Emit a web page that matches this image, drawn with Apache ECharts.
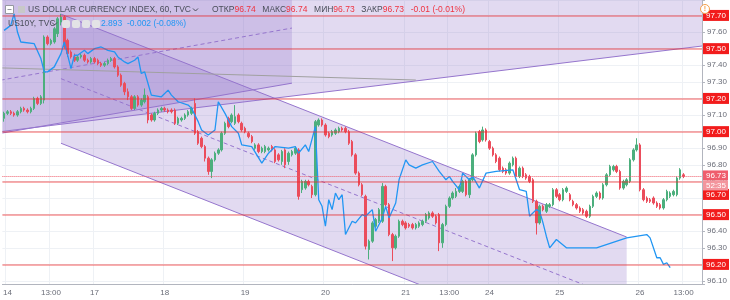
<!DOCTYPE html>
<html><head><meta charset="utf-8">
<script src="https://cdn.jsdelivr.net/npm/echarts@6/dist/echarts.min.js"></script>
<style>html,body{margin:0;padding:0;background:#fff}#c{width:730px;height:300px}</style>
</head><body><div id="c"></div>
<script>
// ---------- data ----------
const categoryCount = 209;
const tickIndex  = [1, 14, 27, 48, 72, 96, 120, 133, 145, 166, 190, 203];
const tickLabels = ["14","13:00","17","18","19","20","21","13:00","24","25","26","13:00"];
const priceTicks = [96.1,96.2,96.3,96.4,96.5,96.6,96.7,96.8,96.9,97.0,97.1,97.2,97.3,97.4,97.5,97.6,97.7];
// [open, close, low, high]
const candles = [
[97.08,97.11,97.06,97.12],[97.11,97.12,97.10,97.13],[97.12,97.11,97.10,97.13],[97.11,97.10,97.09,97.12],
[97.10,97.12,97.09,97.13],[97.12,97.14,97.11,97.15],[97.14,97.13,97.12,97.15],[97.13,97.12,97.11,97.14],
[97.12,97.14,97.11,97.15],[97.14,97.20,97.13,97.21],[97.20,97.17,97.16,97.21],[97.17,97.21,97.16,97.22],
[97.19,97.57,97.17,97.58],[97.57,97.53,97.52,97.58],[97.53,97.55,97.52,97.56],[97.54,97.62,97.53,97.63],
[97.59,97.68,97.57,97.69],[97.66,97.69,97.64,97.71],[97.69,97.51,97.50,97.70],[97.55,97.47,97.45,97.56],
[97.48,97.45,97.44,97.49],[97.45,97.43,97.42,97.47],[97.43,97.45,97.42,97.46],[97.45,97.46,97.44,97.47],
[97.46,97.43,97.42,97.47],[97.43,97.42,97.41,97.44],[97.42,97.44,97.41,97.45],[97.44,97.42,97.41,97.45],
[97.43,97.41,97.40,97.44],[97.41,97.40,97.39,97.42],[97.40,97.41,97.39,97.42],[97.41,97.43,97.40,97.44],
[97.43,97.44,97.42,97.45],[97.44,97.39,97.38,97.45],[97.39,97.34,97.33,97.40],[97.34,97.28,97.27,97.35],
[97.29,97.24,97.22,97.30],[97.24,97.21,97.19,97.26],[97.21,97.14,97.13,97.22],[97.14,97.21,97.13,97.22],
[97.21,97.16,97.15,97.22],[97.16,97.19,97.15,97.20],[97.18,97.22,97.17,97.26],[97.21,97.07,97.05,97.22],
[97.10,97.07,97.06,97.11],[97.07,97.11,97.06,97.12],[97.11,97.13,97.10,97.14],[97.13,97.14,97.12,97.15],
[97.14,97.13,97.12,97.15],[97.13,97.12,97.11,97.14],[97.13,97.12,97.11,97.14],[97.13,97.05,97.04,97.14],
[97.05,97.08,97.04,97.09],[97.07,97.08,97.06,97.09],[97.08,97.10,97.07,97.11],[97.10,97.12,97.09,97.13],
[97.11,97.14,97.10,97.15],[97.17,96.99,96.98,97.20],[97.00,96.93,96.92,97.01],[96.96,96.91,96.90,96.97],
[96.91,96.84,96.82,96.92],[96.84,96.76,96.74,96.85],[96.76,96.83,96.72,96.84],[96.83,96.87,96.82,96.88],
[96.87,96.89,96.86,96.90],[96.89,96.99,96.88,97.00],[96.99,97.05,96.98,97.06],[97.08,97.03,97.02,97.09],
[97.06,97.10,97.05,97.11],[97.05,97.09,97.04,97.16],[97.10,97.06,97.05,97.11],[97.05,97.01,97.00,97.06],
[97.02,97.00,96.99,97.03],[96.99,96.97,96.96,97.00],[96.97,96.94,96.93,96.98],[96.90,96.92,96.89,96.93],
[96.92,96.88,96.87,96.93],[96.88,96.90,96.87,96.91],[96.88,96.91,96.87,96.92],[96.89,96.90,96.88,96.91],
[96.91,96.89,96.88,96.92],[96.89,96.82,96.81,96.90],[96.86,96.83,96.82,96.87],[96.82,96.88,96.80,96.89],
[96.89,96.80,96.78,96.90],[96.82,96.87,96.80,96.88],[96.86,96.88,96.85,96.89],[96.87,96.90,96.86,96.91],
[96.89,96.61,96.59,96.90],[96.65,96.70,96.63,96.71],[96.66,96.70,96.65,96.71],[96.70,96.68,96.67,96.71],
[96.67,96.62,96.60,96.68],[96.62,97.06,96.61,97.07],[97.04,97.07,97.03,97.08],[97.07,97.04,97.03,97.08],
[97.04,96.98,96.97,97.05],[96.99,96.97,96.96,97.00],[96.98,97.00,96.97,97.01],[96.99,97.01,96.98,97.02],
[97.00,97.02,96.99,97.03],[97.02,97.01,97.00,97.03],[97.02,97.00,96.99,97.03],[97.00,96.93,96.92,97.01],
[96.94,96.86,96.85,96.95],[96.86,96.75,96.74,96.87],[96.75,96.68,96.67,96.76],[96.68,96.62,96.61,96.69],
[96.61,96.31,96.29,96.62],[96.29,96.34,96.23,96.35],[96.34,96.45,96.33,96.46],[96.43,96.47,96.42,96.48],
[96.46,96.53,96.45,96.54],[96.46,96.67,96.45,96.69],[96.67,96.56,96.55,96.68],[96.56,96.38,96.37,96.57],
[96.38,96.30,96.22,96.39],[96.30,96.37,96.29,96.38],[96.37,96.46,96.36,96.47],[96.46,96.44,96.43,96.47],
[96.45,96.42,96.41,96.46],[96.44,96.43,96.42,96.45],[96.44,96.42,96.41,96.45],[96.42,96.44,96.41,96.45],
[96.43,96.45,96.42,96.46],[96.44,96.46,96.43,96.47],[96.46,96.50,96.45,96.51],[96.48,96.51,96.47,96.52],
[96.51,96.49,96.48,96.52],[96.49,96.45,96.44,96.50],[96.50,96.33,96.28,96.51],[96.33,96.44,96.30,96.45],
[96.44,96.55,96.43,96.56],[96.55,96.60,96.54,96.61],[96.60,96.63,96.59,96.64],[96.61,96.64,96.60,96.66],
[96.64,96.67,96.63,96.68],[96.64,96.70,96.63,96.71],[96.70,96.62,96.61,96.71],[96.62,96.71,96.60,96.72],
[96.71,96.86,96.70,96.87],[96.86,96.99,96.85,97.00],[97.00,96.94,96.93,97.01],[96.95,97.01,96.94,97.03],
[97.01,96.95,96.94,97.02],[96.94,96.90,96.89,96.95],[96.90,96.86,96.85,96.91],[96.86,96.82,96.81,96.87],
[96.84,96.77,96.76,96.85],[96.78,96.76,96.75,96.79],[96.77,96.75,96.74,96.78],[96.75,96.81,96.74,96.82],
[96.80,96.84,96.79,96.85],[96.84,96.73,96.72,96.85],[96.73,96.78,96.72,96.79],[96.78,96.73,96.72,96.79],
[96.74,96.72,96.71,96.75],[96.73,96.70,96.69,96.74],[96.71,96.58,96.57,96.72],[96.58,96.45,96.38,96.59],
[96.45,96.55,96.44,96.56],[96.55,96.53,96.52,96.56],[96.52,96.56,96.51,96.57],[96.55,96.56,96.54,96.57],
[96.56,96.65,96.55,96.66],[96.65,96.61,96.60,96.66],[96.62,96.59,96.58,96.63],[96.59,96.65,96.58,96.66],
[96.64,96.66,96.63,96.67],[96.62,96.59,96.58,96.63],[96.58,96.56,96.55,96.59],[96.56,96.54,96.53,96.57],
[96.54,96.52,96.51,96.55],[96.53,96.51,96.50,96.54],[96.52,96.49,96.48,96.53],[96.49,96.55,96.48,96.56],
[96.55,96.61,96.54,96.62],[96.61,96.63,96.60,96.64],[96.63,96.60,96.59,96.64],[96.60,96.68,96.59,96.69],
[96.68,96.74,96.67,96.75],[96.74,96.79,96.73,96.80],[96.77,96.79,96.76,96.80],[96.79,96.76,96.75,96.80],
[96.76,96.66,96.65,96.77],[96.66,96.70,96.65,96.71],[96.68,96.71,96.67,96.72],[96.70,96.83,96.69,96.84],
[96.83,96.89,96.82,96.90],[96.89,96.92,96.88,96.96],[96.92,96.65,96.64,96.93],[96.65,96.59,96.58,96.66],
[96.60,96.58,96.57,96.61],[96.59,96.58,96.57,96.60],[96.60,96.57,96.56,96.61],[96.57,96.55,96.54,96.58],
[96.56,96.54,96.53,96.57],[96.54,96.59,96.53,96.60],[96.59,96.64,96.58,96.65],[96.61,96.63,96.60,96.64],
[96.62,96.64,96.61,96.65],[96.62,96.72,96.61,96.73],[96.72,96.77,96.71,96.78],[96.74,96.73,96.72,96.75]
];
// US10Y overlay, drawn in the price pane units: [bar index, value]
const us10y = [
[0,97.61],[2,97.64],[3,97.71],[4,97.60],[5,97.54],[9,97.53],[11,97.44],[12,97.36],[13,97.36],[15,97.39],
[17,97.47],[18,97.54],[20,97.38],[21,97.46],[22,97.46],[24,97.49],[25,97.47],[27,97.50],[29,97.51],[31,97.49],
[33,97.48],[34,97.45],[36,97.42],[37,97.41],[39,97.43],[40,97.45],[41,97.35],[42,97.36],[43,97.29],[44,97.22],
[47,97.21],[49,97.25],[50,97.22],[52,97.18],[55,97.16],[56,97.14],[58,97.06],[59,97.01],[61,96.98],[63,97.01],
[64,97.18],[66,97.11],[68,97.03],[70,96.99],[71,96.92],[74,96.91],[77,96.81],[79,96.87],[81,96.91],[85,96.90],
[87,96.91],[88,96.87],[90,96.92],[91,96.88],[93,97.03],[94,96.59],[95,96.55],[96,96.43],[97,96.59],[98,96.53],
[99,96.63],[100,96.59],[101,96.62],[102,96.38],[104,96.46],[105,96.45],[107,96.50],[108,96.49],[110,96.53],[111,96.40],
[113,96.48],[114,96.55],[115,96.48],[117,96.57],[118,96.71],[120,96.83],[121,96.80],[123,96.78],[125,96.80],[128,96.82],
[130,96.76],[132,96.71],[133,96.73],[134,96.70],[136,96.65],[137,96.75],[139,96.71],[140,96.73],[142,96.66],[144,96.75],
[147,96.76],[152,96.77],[153,96.71],[154,96.65],[156,96.64],[157,96.49],[159,96.53],[160,96.52],[161,96.45],[162,96.37],
[163,96.30],[165,96.35],[168,96.30],[177,96.30],[186,96.36],[192,96.38],[193,96.36],[195,96.24],[196,96.24],[197,96.20],
[198,96.21],[199,96.18]
];
const levelLines = [97.70, 97.50, 97.20, 97.00, 96.70, 96.50, 96.20];
const lastPrice = 96.73;
const countdown = "52:35";
// drawing anchors: [bar index, price]
const shadeWide  = [[-1,97.85],[209,97.85],[209,97.517],[-1,97.00]];
const shadeShort = [[-1,97.85],[86,97.85],[86,97.292],[-1,96.99]];
const shadeDesc  = [[17,97.708],[186,96.365],[186,95.587],[17,96.930]];
const trendWide     = [[-1,97.00],[209,97.517]];
const trendShortLow = [[-1,96.99],[86,97.292]];
const trendShortMid = [[-1,97.31],[86,97.624]];
const descUpper = [[17,97.708],[186,96.365]];
const descLower = [[17,96.930],[186,95.587]];
const descMid   = [[17,97.319],[186,95.976]];
const grayTrend = [[-1,97.384],[123,97.311]];

// ---------- chart ----------
const UP = '#4caf7d', DOWN = '#eb4d5c';
const cats = Array.from({length: categoryCount}, (_, i) => 'b' + i);
const tickMap = {}; tickIndex.forEach((t, k) => tickMap[t] = tickLabels[k]);
const FONT = 'Liberation Sans, Arial, sans-serif';

function clipRect(params) {
  const cs = params.coordSys;
  return {type: 'rect', shape: {x: cs.x, y: cs.y, width: cs.width, height: cs.height}};
}
function polySeries(pts, fill) {
  return {type: 'custom', silent: true, z: 1, data: [[0, 97]], encode: {x: 0, y: 1},
    renderItem: (params, api) => ({type: 'group', clipPath: clipRect(params), children: [
      {type: 'polygon', shape: {points: pts.map(p => api.coord(p))}, style: {fill: fill}}]})};
}
function lineSeries(pts, color, dash, z) {
  return {type: 'custom', silent: true, z: z || 1, data: [[0, 97]], encode: {x: 0, y: 1},
    renderItem: (params, api) => {
      const a = api.coord(pts[0]), b = api.coord(pts[1]);
      return {type: 'group', clipPath: clipRect(params), children: [
        {type: 'line', shape: {x1: a[0], y1: a[1], x2: b[0], y2: b[1]},
         style: {stroke: color, lineWidth: 1, lineDash: dash || null}}]};
    }};
}
const FILL = 'rgba(149,117,205,0.27)';
const PURPLE = '#9575cd';

const levelData = levelLines.map(v => ({
  yAxis: v,
  label: {show: true, position: 'end', distance: 1, formatter: v.toFixed(2),
    backgroundColor: '#f21c1c', color: '#fff', fontSize: 8, fontFamily: FONT,
    padding: [2, 3, 1, 3], offset: Math.abs(v - 96.70) < 1e-6 ? [0, 13] : [0, 0]}
}));
levelData.push({
  yAxis: lastPrice,
  lineStyle: {type: 'dotted', color: '#ef5d6c', width: 1},
  label: {show: true, position: 'end', distance: 1, offset: [0, 4],
    formatter: '{a|' + lastPrice.toFixed(2) + '}\n{b|' + countdown + '}',
    rich: {
      a: {backgroundColor: '#ef5d6c', color: '#fff', fontSize: 8, fontFamily: FONT, padding: [1, 3, 0, 3], width: 19, height: 9},
      b: {backgroundColor: '#f3959d', color: '#fff', fontSize: 8, fontFamily: FONT, padding: [1, 3, 0, 3], width: 19, height: 9}
    }}
});

const chart = echarts.init(document.getElementById('c'), null, {renderer: 'canvas'});
chart.setOption({
  animation: false,
  backgroundColor: '#fff',
  grid: {left: 0, right: 25, top: 0, bottom: 16},
  xAxis: {
    type: 'category', data: cats, boundaryGap: true,
    axisLine: {lineStyle: {color: '#b2b5be'}},
    axisTick: {alignWithLabel: true, length: 3, interval: (i) => tickMap[i] !== undefined, lineStyle: {color: '#b2b5be'}},
    axisLabel: {interval: 0, formatter: (v, i) => tickMap[i] || '', fontSize: 8, color: '#6a6d78', margin: 5, fontFamily: FONT},
    splitLine: {show: true, interval: (i) => tickMap[i] !== undefined, lineStyle: {color: '#eef1f5'}}
  },
  yAxis: {
    type: 'value', position: 'right', min: 96.082, max: 97.793,
    splitNumber: 17, minInterval: 0.1, maxInterval: 0.1,
    axisLine: {show: true, lineStyle: {color: '#b2b5be'}},
    axisTick: {show: true, length: 3, lineStyle: {color: '#b2b5be'}},
    axisLabel: {fontSize: 8, color: '#6a6d78', margin: 5, fontFamily: FONT,
      formatter: (v) => priceTicks.some(t => Math.abs(t - v) < 1e-6) ? v.toFixed(2) : ''},
    splitLine: {show: true, lineStyle: {color: '#eef1f5'}}
  },
  series: [
    polySeries(shadeWide, FILL),
    polySeries(shadeShort, FILL),
    polySeries(shadeDesc, FILL),
    lineSeries(trendWide, PURPLE),
    lineSeries(trendShortLow, PURPLE),
    lineSeries(trendShortMid, PURPLE, [4, 3]),
    lineSeries(descUpper, PURPLE),
    lineSeries(descLower, PURPLE),
    lineSeries(descMid, PURPLE, [4, 3]),
    lineSeries(grayTrend, '#a0a0a0'),
    {
      type: 'candlestick', name: 'DXY', z: 3, data: candles, barWidth: 2,
      itemStyle: {color: UP, color0: DOWN, borderColor: UP, borderColor0: DOWN, borderWidth: 1},
      markLine: {silent: true, symbol: ['none', 'none'], animation: false,
        lineStyle: {type: 'solid', color: 'rgba(242,40,40,0.5)', width: 1.5},
        data: levelData}
    },
    {
      type: 'line', name: 'US10Y', z: 4, data: us10y, symbol: 'none',
      lineStyle: {color: '#2196f3', width: 1.3}
    }
  ],
  graphic: [
    {type: 'rect', shape: {x: 5.5, y: 5.5, width: 8, height: 8}, style: {fill: '#fff', stroke: '#9598a1', lineWidth: 1}, z: 100},
    {type: 'line', shape: {x1: 7.5, y1: 9.5, x2: 11.5, y2: 9.5}, style: {stroke: '#9598a1', lineWidth: 1}, z: 100},
    {type: 'rect', shape: {x: 18, y: 6, width: 7, height: 7}, style: {fill: '#c8c8c8'}, z: 100},
    {type: 'text', x: 28, y: 10, z: 100, style: {text: 'US DOLLAR CURRENCY INDEX, 60, TVC', fontSize: 8.5, fontFamily: FONT, fill: '#4a4e5a', verticalAlign: 'middle'}},
    {type: 'polyline', shape: {points: [[193, 8.5], [195.5, 11], [198, 8.5]]}, style: {stroke: '#4a4e5a', fill: null, lineWidth: 1}, z: 100},
    {type: 'text', x: 212, y: 10, z: 100, style: {verticalAlign: 'middle',
      text: '{l|ОТКР}{v|96.74}  {l|МАКС}{v|96.74}  {l|МИН}{v|96.73}  {l|ЗАКР}{v|96.73}  {v|-0.01 (-0.01%)}',
      rich: {l: {fontSize: 8.5, fontFamily: FONT, fill: '#4a4e5a'}, v: {fontSize: 8.5, fontFamily: FONT, fill: '#ef3340'}}}},
    {type: 'text', x: 8, y: 24, z: 100, style: {text: 'US10Y, TVC', fontSize: 8.5, fontFamily: FONT, fill: '#4a4e5a', verticalAlign: 'middle'}},
    {type: 'polyline', shape: {points: [[52, 22.5], [54.5, 25], [57, 22.5]]}, style: {stroke: '#4a4e5a', fill: null, lineWidth: 1}, z: 100},
    {type: 'rect', shape: {x: 62, y: 20, width: 8, height: 8, r: 2}, style: {fill: '#e3e3e6'}, z: 100},
    {type: 'rect', shape: {x: 72, y: 20, width: 8, height: 8, r: 2}, style: {fill: '#e3e3e6'}, z: 100},
    {type: 'rect', shape: {x: 82, y: 20, width: 8, height: 8, r: 2}, style: {fill: '#e3e3e6'}, z: 100},
    {type: 'rect', shape: {x: 92, y: 20, width: 8, height: 8, r: 2}, style: {fill: '#e3e3e6'}, z: 100},
    {type: 'text', x: 101, y: 24, z: 100, style: {text: '2.893  -0.002 (-0.08%)', fontSize: 8.5, fontFamily: FONT, fill: '#2196f3', verticalAlign: 'middle'}},
    {type: 'circle', shape: {cx: 705, cy: 9, r: 4.5}, style: {fill: '#fff', stroke: '#f5a04a', lineWidth: 1}, z: 100},
    {type: 'text', x: 705, y: 9, z: 101, style: {text: '!', fontSize: 7, fontFamily: FONT, fill: '#f5a04a', align: 'center', verticalAlign: 'middle', fontWeight: 'bold'}}
  ]
});
</script></body></html>
